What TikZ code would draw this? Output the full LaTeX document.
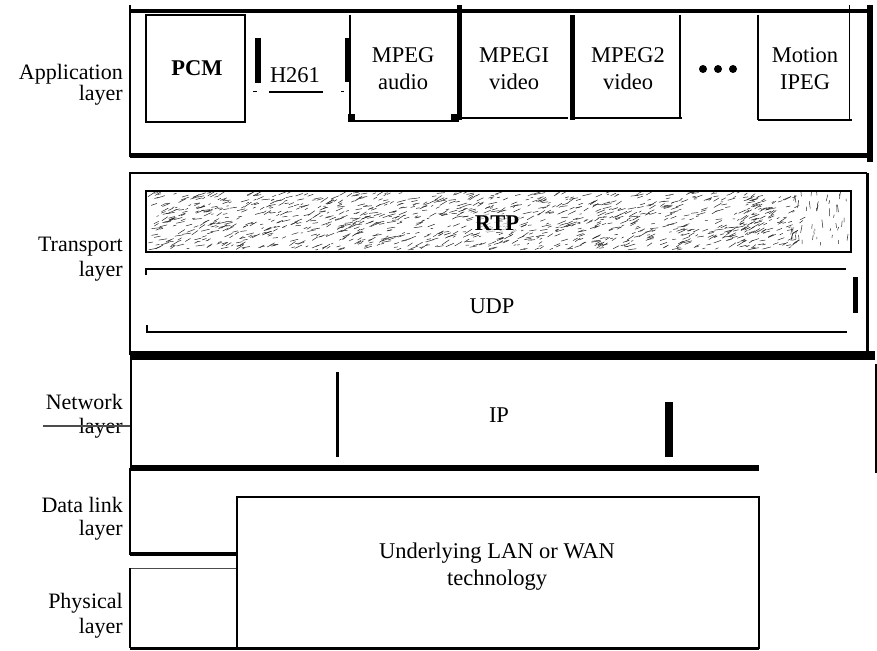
\documentclass[tikz,border=0pt]{standalone}
\usepackage{fontspec}
\setmainfont{Liberation Serif}
\begin{document}
\begin{tikzpicture}[x=1pt,y=1pt,
  lbl/.style={anchor=base east, inner sep=0pt, font=\fontsize{22}{26}\selectfont},
  txt/.style={anchor=base, inner sep=0pt, font=\fontsize{22.5}{27}\selectfont},
  btxt/.style={anchor=base, inner sep=0pt, font=\fontsize{22.5}{27}\selectfont\bfseries},
  edge/.style={line width=1.5pt},
  heavy/.style={line width=5pt},
  noise/.style={line width=0.5pt, line cap=round, black!85}
]
\useasboundingbox (0,0) rectangle (877,-650);

% ---------------- layer labels ----------------
\node[lbl] (la1) at (123,-80) {Application};
\node[lbl] (la2) at (123,-101) {layer};
\node[lbl] (lt1) at (123,-251) {Transport};
\node[lbl] (lt2) at (123,-276) {layer};
\node[lbl] (ln1) at (123,-409) {Network};
\node[lbl] (ln2) at (123,-433) {layer};
\node[lbl] (ld1) at (123,-512) {Data link};
\node[lbl] (ld2) at (123,-535) {layer};
\node[lbl] (lp1) at (123,-608) {Physical};
\node[lbl] (lp2) at (123,-633) {layer};
\draw[line width=1.2pt, black!70] (43,-426) -- (131,-426);

% ---------------- application layer ----------------
\draw[edge] (130,-5) -- (130,-157);
\draw[line width=4pt] (130,-11) -- (873,-11);
\draw[line width=6pt] (870,-5) -- (870,-162);
\draw[heavy] (130,-155) -- (873,-155);

% PCM
\draw[edge] (146,-15) rectangle (245,-122);
\node[btxt] (pcm) at (197,-76) {PCM};
% H261
\draw[line width=6pt] (258,-38) -- (258,-83);
\draw[line width=6pt] (348,-38) -- (348,-82);
\node[txt] (h261) at (295,-83) {H261};
\draw[line width=1.2pt] (269,-92) -- (323,-92);
\draw[line width=1pt] (253,-92) -- (257,-92);
\draw[line width=1pt] (341,-92) -- (344,-92);
% MPEG audio
\draw[line width=2pt] (350,-15) -- (350,-121) -- (459,-121);
\fill (348,-114) rectangle (355,-122);
\node[txt] (mpa1) at (403,-63) {MPEG};
\node[txt] (mpa2) at (403,-90) {audio};
% MPEGI video
\draw[heavy] (459,-5) -- (459,-120);
\draw[edge] (459,-118) -- (568,-118);
\fill (451,-114) rectangle (457,-120);
\node[txt] (mp11) at (514,-63) {MPEGI};
\node[txt] (mp12) at (514,-90) {video};
% MPEG2 video
\draw[heavy] (572,-15) -- (572,-120);
\draw[edge] (572,-118) -- (682,-118);
\draw[edge] (680,-15) -- (680,-118);
\node[txt] (mp21) at (628,-63) {MPEG2};
\node[txt] (mp22) at (628,-90) {video};
% dots
\fill (703,-69) circle (4);
\fill (718,-69) circle (4);
\fill (733,-69) circle (4);
% Motion IPEG
\draw[edge] (758,-15) -- (758,-120);
\draw[line width=2pt] (758,-120) -- (852,-120);
\draw[line width=1pt] (849,-5) -- (849,-120);
\node[txt] (mo1) at (805,-63) {Motion};
\node[txt] (mo2) at (805,-90) {IPEG};

% ---------------- transport layer ----------------
\draw[edge] (130,-173) -- (867,-173);
\draw[line width=2.5pt] (130,-173) -- (270,-173);
\draw[edge] (130,-172) -- (130,-355);
\draw[line width=3pt] (867,-173) -- (867,-352);
\draw[line width=9pt] (130,-355) -- (875,-355);

% RTP texture
\begin{scope}
\clip (147,-192) rectangle (850,-251);
\pgfmathsetseed{11}
\foreach \i in {1,...,1150}{
  \pgfmathsetmacro\rx{148+rnd*620}
  \pgfmathsetmacro\ry{193+rnd*57}
  \pgfmathsetmacro\rl{2+rnd*7}
  \pgfmathsetmacro\ra{5+rnd*30}
  \draw[noise] (\rx,-\ry) -- ++(\ra:\rl);
}
\foreach \i in {1,...,90}{
  \pgfmathsetmacro\rx{740+rnd*60}
  \pgfmathsetmacro\ry{193+rnd*57}
  \pgfmathsetmacro\rl{2+rnd*5}
  \pgfmathsetmacro\ra{10+rnd*30}
  \draw[noise] (\rx,-\ry) -- ++(\ra:\rl);
}
\foreach \i in {1,...,45}{
  \pgfmathsetmacro\rx{790+rnd*58}
  \pgfmathsetmacro\ry{195+rnd*52}
  \pgfmathsetmacro\rl{2+rnd*6}
  \pgfmathsetmacro\ra{70+rnd*30}
  \draw[noise] (\rx,-\ry) -- ++(\ra:\rl);
}
\end{scope}
\draw[line width=2pt] (146,-191) rectangle (851,-252);
\node[btxt, fill=white, fill opacity=0.6, text opacity=1, inner sep=1.5pt] (rtp) at (497,-230) {RTP};

% UDP
\draw[line width=2pt] (146,-275) -- (146,-269) -- (846,-269);
\draw[line width=2pt] (147,-325) -- (147,-332) -- (847,-332);
\draw[heavy] (855,-277) -- (855,-313);
\node[txt] (udp) at (492,-313) {UDP};

% ---------------- network layer ----------------
\draw[line width=2pt] (131,-358) -- (131,-470);
\draw[line width=6pt] (130,-468) -- (759,-468);
\draw[line width=2pt] (876,-364) -- (876,-473);
\draw[line width=3pt] (337,-372) -- (337,-457);
\draw[line width=8pt] (669,-402) -- (669,-457);
\node[txt] (ip) at (499,-422) {IP};

% ---------------- data link / physical ----------------
\draw[edge] (130,-468) -- (130,-555);
\draw[line width=4pt] (130,-554) -- (237,-554);
\draw[line width=1pt, black!70] (130,-568) -- (237,-568);
\draw[edge] (130,-568) -- (130,-648);
\draw[line width=3pt] (130,-648) -- (759,-648);
\draw[line width=1.8pt] (237,-497) rectangle (759,-648);
\node[txt] (lan1) at (497,-558) {Underlying LAN or WAN};
\node[txt] (lan2) at (497,-585) {technology};
\end{tikzpicture}
\end{document}
